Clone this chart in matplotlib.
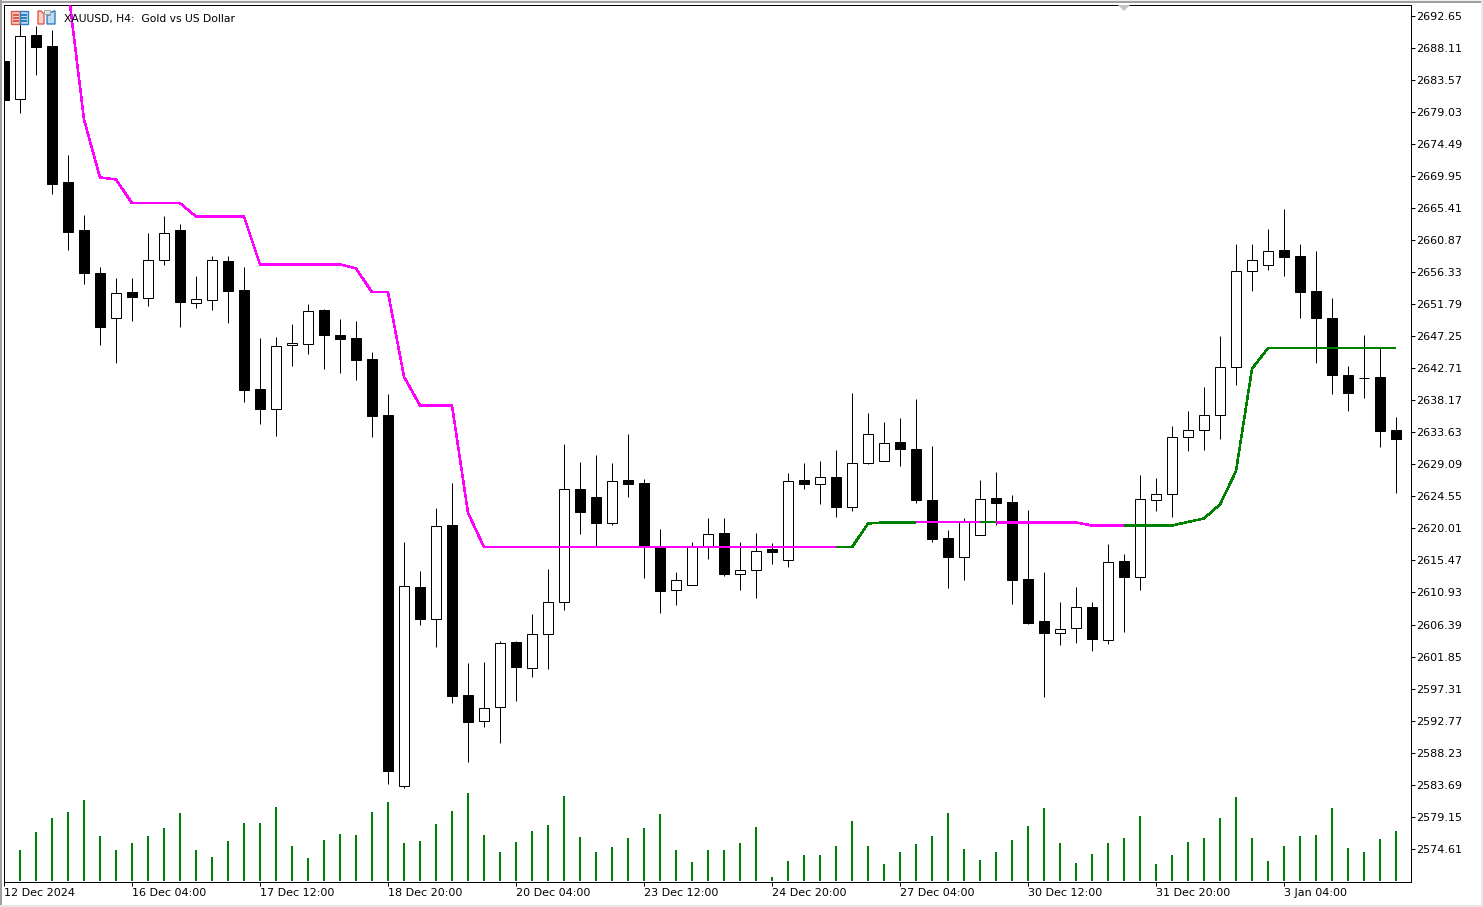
import matplotlib
matplotlib.use("Agg")
import matplotlib.pyplot as plt
from matplotlib.patches import Rectangle, Polygon

W, H = 1483, 907

opens = [2686.34,2680.91,2689.89,2688.33,2669.05,2662.25,2656.29,2649.87,2653.46,2652.71,
         2658.09,2662.25,2652.00,2652.42,2657.99,2653.74,2639.71,2636.97,2646.02,2646.19,
         2650.91,2647.50,2646.94,2643.96,2636.02,2583.53,2611.64,2607.20,2620.43,2596.33,
         2592.75,2594.73,2603.85,2600.26,2605.08,2609.61,2625.67,2624.40,2620.81,2626.81,
         2626.38,2617.35,2611.31,2612.02,2617.50,2619.30,2613.58,2614.15,2617.03,2615.57,
         2626.81,2626.34,2627.37,2623.08,2629.32,2629.60,2632.20,2631.34,2623.97,2618.59,
         2615.99,2619.11,2624.26,2623.69,2612.78,2606.82,2605.22,2605.93,2608.81,2604.23,
         2615.33,2613.16,2624.07,2624.92,2633.00,2633.99,2636.12,2642.93,2656.53,2657.38,
         2659.41,2658.56,2653.60,2649.91,2641.83,2641.37,2641.41,2633.90]
closes = [2680.72,2689.84,2688.23,2668.81,2662.00,2656.19,2648.54,2653.41,2652.79,2658.09,
          2661.92,2652.08,2652.56,2658.09,2653.64,2639.61,2636.92,2645.90,2646.33,2650.86,
          2647.41,2646.84,2643.86,2635.92,2585.60,2611.88,2607.15,2620.39,2596.23,2592.55,
          2594.59,2603.80,2600.34,2605.08,2609.61,2625.63,2622.31,2620.76,2626.77,2626.24,
          2617.35,2611.12,2612.73,2617.55,2619.25,2613.53,2614.15,2616.84,2616.64,2626.77,
          2626.28,2627.33,2623.02,2629.32,2633.43,2632.15,2631.25,2624.02,2618.49,2615.94,
          2621.10,2624.21,2623.59,2612.68,2606.58,2605.16,2605.79,2608.91,2604.31,2615.28,
          2613.10,2624.21,2624.92,2633.00,2633.99,2636.12,2642.93,2656.53,2658.09,2659.37,
          2658.46,2653.50,2649.81,2641.73,2639.18,2641.37,2633.80,2632.66]
highs = [2687.19,2692.86,2691.30,2690.60,2672.88,2664.51,2657.14,2655.58,2655.58,2661.96,
         2664.37,2663.10,2655.73,2658.66,2658.56,2657.00,2646.94,2647.08,2649.06,2651.76,
         2651.05,2649.63,2649.35,2644.95,2639.00,2618.02,2613.91,2622.84,2626.38,2600.87,
         2601.01,2603.99,2603.99,2607.81,2614.19,2631.91,2629.36,2630.49,2629.22,2633.33,
         2626.95,2619.86,2613.77,2618.02,2621.42,2621.42,2618.02,2619.30,2617.88,2627.80,
         2629.22,2629.50,2631.06,2639.14,2636.31,2635.03,2635.60,2638.29,2631.63,2619.72,
         2621.42,2626.81,2628.08,2624.68,2622.56,2613.77,2609.52,2611.64,2609.52,2617.74,
         2616.32,2627.52,2627.23,2634.46,2636.59,2639.99,2647.22,2660.40,2660.40,2662.39,
         2665.36,2660.26,2659.27,2652.61,2642.97,2647.36,2645.52,2635.74]
lows = [2679.68,2678.87,2684.22,2667.39,2659.45,2654.63,2645.99,2643.44,2649.39,2651.52,
        2657.33,2648.54,2651.23,2650.95,2649.11,2637.91,2634.79,2633.09,2643.01,2644.71,
        2642.59,2642.02,2641.03,2632.95,2583.76,2583.19,2606.30,2603.18,2595.24,2586.88,
        2591.84,2589.57,2595.52,2598.93,2600.06,2608.42,2619.20,2617.50,2620.47,2624.44,
        2612.96,2608.00,2609.13,2612.02,2615.65,2613.24,2611.26,2610.12,2614.94,2614.52,
        2625.57,2623.45,2621.61,2622.46,2629.12,2629.60,2628.84,2623.59,2618.06,2611.54,
        2612.68,2619.11,2620.47,2609.27,2606.44,2596.09,2603.46,2603.75,2602.61,2603.60,
        2605.31,2611.26,2622.46,2621.66,2630.96,2631.10,2632.66,2640.32,2653.64,2656.62,
        2655.77,2649.81,2643.44,2639.04,2636.63,2638.47,2631.53,2625.01]

# tick volume of candles 1..87, relative units
volumes = [31,49,63,69,81,45,31,38,45,53,68,31,24,40,58,58,74,35,23,41,47,46,69,79,38,40,57,70,88,46,
           29,39,50,56,85,44,29,34,43,53,67,31,19,31,31,38,54,4,20,26,26,35,60,35,17,29,37,45,68,32,21,
           29,41,55,73,38,18,27,38,43,65,17,26,39,43,63,84,43,20,35,45,46,73,33,29,42,50]

# trend line, candles 4..87
trend_line = [2696.60,2677.98,2669.76,2669.48,2666.12,2666.12,2666.12,2666.12,
              2664.23,2664.23,2664.23,2664.23,2657.43,2657.43,2657.43,2657.43,2657.43,2657.43,
              2656.86,2653.50,2653.50,2641.51,2637.44,2637.44,2637.44,2622.23,
              2617.35,2617.35,2617.35,2617.35,2617.35,2617.35,2617.35,2617.35,2617.35,2617.35,
              2617.35,2617.35,2617.35,2617.35,2617.35,2617.35,2617.35,2617.35,2617.35,2617.35,
              2617.35,2617.35,2617.35,2617.35,
              2620.71,2620.86,2620.86,2620.86,2620.86,2620.86,2620.86,2620.86,2620.86,2620.86,
              2620.86,2620.86,2620.86,2620.86,
              2620.43,2620.43,2620.43,2620.43,2620.43,2620.43,
              2620.93,2621.42,2623.41,2628.13,2642.64,
              2645.56,2645.56,2645.56,2645.56,2645.56,2645.56,2645.56,2645.56,2645.56]
# (first candle, last candle, colour) of each coloured run of the line
trend_runs = [(4,52,"#FF00FF"),(52,57,"#008000"),(57,61,"#FF00FF"),(61,62,"#008000"),
              (62,70,"#FF00FF"),(70,87,"#008000")]

price_ticks = [2692.65,2688.11,2683.57,2679.03,2674.49,2669.95,2665.41,2660.87,2656.33,
               2651.79,2647.25,2642.71,2638.17,2633.63,2629.09,2624.55,2620.01,2615.47,
               2610.93,2606.39,2601.85,2597.31,2592.77,2588.23,2583.69,2579.15,2574.61]
time_ticks = [0,8,16,24,32,40,48,56,64,72,80]
time_labels = ["12 Dec 2024","16 Dec 04:00","17 Dec 12:00","18 Dec 20:00","20 Dec 04:00",
               "23 Dec 12:00","24 Dec 20:00","27 Dec 04:00","30 Dec 12:00","31 Dec 20:00","3 Jan 04:00"]

FONT = "DejaVu Sans"
PX = 0.72
fig = plt.figure(figsize=(W/100, H/100), dpi=100, facecolor="white")
L, R, T, B = 4, 1411, 5, 882
ax = fig.add_axes([L/W, 1-B/H, (R-L)/W, (B-T)/H])
ax.set_facecolor("white")
ax.set_xlim(0, (R-L)/16)
ax.set_ylim(2569.89, 2694.21)

xs = list(range(len(opens)))
ax.vlines(xs, lows, highs, color="black", lw=PX, zorder=2)
bottoms = [min(o, c) for o, c in zip(opens, closes)]
heights = [abs(o-c) for o, c in zip(opens, closes)]
faces = ["white" if c >= o else "black" for o, c in zip(opens, closes)]
ax.bar(xs, heights, bottom=bottoms, width=0.625, color=faces, edgecolor="black", linewidth=PX, zorder=3)

for a, b, col in trend_runs:
    ax.plot(range(a, b+1), trend_line[a-4:b-4+1], color=col, lw=1.5*PX, zorder=4,
            solid_capstyle="butt", solid_joinstyle="miter", antialiased=False)

for s in ax.spines.values():
    s.set_linewidth(PX)
    s.set_color("black")

vax = ax.twinx()
vax.set_ylim(-1, B-T-1)
vax.set_yticks([])
vax.patch.set_visible(False)
for s in vax.spines.values():
    s.set_visible(False)
vax.bar(range(1, 88), volumes, width=0.125, color="#008000", linewidth=0, zorder=2)

ax.yaxis.tick_right()
ax.set_yticks(price_ticks)
ax.set_yticklabels([f"{p:.2f}" for p in price_ticks], fontsize=8, family=FONT, color="black")
ax.tick_params(axis="y", direction="out", length=3.2, width=PX, pad=0.2)
ax.set_xticks(time_ticks)
ax.set_xticklabels(time_labels, fontsize=8, family=FONT, ha="left", color="black")
ax.tick_params(axis="x", direction="out", length=3, width=PX, pad=1.5)

def rect(x0, y0, x1, y1, fc, ec="none", lw=0, z=5):
    fig.add_artist(Rectangle((x0/W, 1-y1/H), (x1-x0)/W, (y1-y0)/H, transform=fig.transFigure,
                             facecolor=fc, edgecolor=ec, linewidth=lw, zorder=z))

def poly(pts, fc, ec="none", lw=0, z=5):
    fig.add_artist(Polygon([(x/W, 1-y/H) for x, y in pts], closed=True, transform=fig.transFigure,
                           facecolor=fc, edgecolor=ec, linewidth=lw, zorder=z))

# window frame
rect(0, 0, W, 0.8, "#f0f0f0")
rect(0, 0.8, W, 2.6, "#a0a0a0")
rect(0, 0, 2, H, "#a0a0a0")
rect(1481, 0, W, H, "#e6e6e6")
rect(0, 905, W, H, "#e6e6e6")
# scroll marker
poly([(1118, 5), (1130, 5), (1124, 11)], "#c4c4c4")
# toolbar icons
rect(10.5, 11, 19.5, 24, "#f9c9bd", "#dc5a50", 1.0)
rect(19.5, 11, 28.5, 24, "#bcdcf2", "#2f7fbf", 1.0)
for yy in (14.5, 17.5, 20.5):
    rect(12.5, yy, 18.5, yy+1, "#dc5a50", z=6)
    rect(20.5, yy, 27, yy+1, "#2f7fbf", z=6)
poly([(38, 11), (41, 11), (44, 14), (44, 24), (38, 24)], "#fbd0c4", "#dc5a50", 1.0)
poly([(47, 15), (50, 15), (50, 13), (54, 11), (55, 11), (55, 24), (47, 24)], "#bcdcf2", "#2f7fbf", 1.0)
rect(44, 10.5, 50, 14, "#e4e4e4", "#a8a8a8", 0.8)

fig.text(64/W, 1-18.8/H, "XAUUSD, H4:  Gold vs US Dollar", fontsize=7.75, family=FONT,
         color="black", va="center", ha="left", zorder=7)

fig.savefig("out.png", dpi=100, facecolor="white")
